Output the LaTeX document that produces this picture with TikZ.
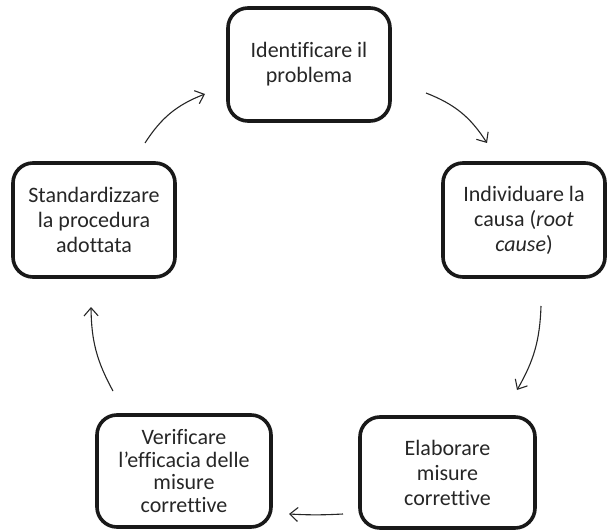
\documentclass[tikz,border=0pt]{standalone}
\usepackage{fontspec}
\setmainfont{Carlito}[RawFeature=-liga]
\usetikzlibrary{arrows.meta}
\tikzset{
  stagebox/.style={draw=black!90, line width=3.6pt, rounded corners=20pt, align=center,
    font=\fontsize{22pt}{25pt}\selectfont, text=black!85, inner sep=0pt},
  flow/.style={line width=1.1pt, draw=black!85, -{Straight Barb[length=8pt,width=14pt,line width=1.1pt]}}
}
\begin{document}
\begin{tikzpicture}[x=1pt,y=1pt]
\useasboundingbox (0,0) rectangle (608,531);
\node[stagebox, minimum width=162pt, minimum height=113pt] (top) at (309,466.5) {Identificare il\\problema};
\node[stagebox, minimum width=162pt, minimum height=114pt] (right) at (524,311) {Individuare la\\causa (\textit{root}\\\textit{cause})};
\node[stagebox, minimum width=175pt, minimum height=111pt] (br) at (447.5,58.5) {Elaborare\\misure\\correttive};
\node[stagebox, minimum width=174pt, minimum height=112pt, font=\fontsize{22pt}{22.5pt}\selectfont] (bl) at (184,60) {Verificare\\l’efficacia delle\\misure\\correttive};
\node[stagebox, minimum width=162pt, minimum height=114pt] (left) at (94,311) {Standardizzare\\la procedura\\adottata};
\coordinate (a1s) at (145,388); \coordinate (a1e) at (205,437);
\coordinate (a2s) at (426,438); \coordinate (a2e) at (487,388);
\coordinate (a3s) at (541,225); \coordinate (a3e) at (517,141);
\coordinate (a4s) at (343,17);  \coordinate (a4e) at (289,17);
\coordinate (a5s) at (113,140); \coordinate (a5e) at (91,224);
\draw[flow] (a1s) to[bend left=18] (a1e);
\draw[flow] (a2s) to[bend left=18] (a2e);
\draw[flow] (a3s) to[bend left=14] (a3e);
\draw[flow] (a4s) to[bend left=3] (a4e);
\draw[flow] (a5s) to[bend left=14] (a5e);
\end{tikzpicture}
\end{document}
